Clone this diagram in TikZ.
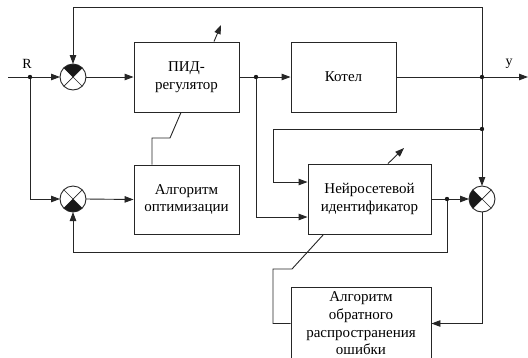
\documentclass[tikz,border=0pt]{standalone}
\usepackage{fontspec}
\setmainfont{Liberation Serif}
\usetikzlibrary{arrows.meta}
\newcommand{\sumdec}[2]{%
  \draw[line width=0.7pt] (#1.north west) -- (#1.south east) (#1.north east) -- (#1.south west);
  \begin{scope}
    \clip (#1.center) circle[radius=12.8pt];
    \fill[black!90] (#1.center) #2 -- cycle;
  \end{scope}}
\begin{document}
\begin{tikzpicture}[x=1pt,y=-1pt,line width=0.9pt,
  draw=black!85,
  blk/.style={draw, rectangle, align=center, inner sep=0pt,
    font=\fontsize{15}{17.6}\selectfont},
  sum/.style={draw, circle, minimum size=26pt, inner sep=0pt, outer sep=0pt},
  arr/.style={-{Triangle[length=9pt,width=6.5pt]}},
  lbl/.style={font=\fontsize{14}{17}\selectfont, inner sep=0pt}]
\clip (0,0) rectangle (528,357);
\useasboundingbox (0,0) rectangle (528,357);
% blocks
\node[blk, minimum width=105pt, minimum height=70pt] (pid) at (186.5,77) {ПИД-\\регулятор};
\node[blk, minimum width=105pt, minimum height=70pt] (kot) at (343.5,77) {Котел};
\node[blk, minimum width=105pt, minimum height=69pt] (opt) at (186.5,199.5) {Алгоритм\\оптимизации};
\node[blk, minimum width=123pt, minimum height=70pt] (nn) at (369.5,199) {Нейросетевой\\идентификатор};
\node[blk, minimum width=140pt, minimum height=73pt] (bp) at (361,323.5) {Алгоритм\\обратного\\распространения\\ошибки};
% summers
\node[sum] (s1) at (73,77) {};
\node[sum] (s2) at (73,199) {};
\node[sum] (s3) at (482,199) {};
\sumdec{s1}{-- +(-20,-20) -- +(20,-20)}
\sumdec{s2}{-- +(-20,20) -- +(20,20)}
\sumdec{s3}{-- +(-20,-20) -- +(-20,20)}
% labels
\node[lbl] (R) at (27,64) {R};
\node[lbl] (yl) at (509,64) {y};
% coordinates
\coordinate (in) at (8,77);
\coordinate (dR) at (30,77);
\coordinate (dP) at (256,77);
\coordinate (dY) at (482,77);
\coordinate (out) at (528,77);
\coordinate (dT) at (482,129);
\coordinate (dN) at (447,199);
\coordinate (ctop) at (482,7);
\coordinate (c1) at (273,129);
\coordinate (c2) at (447,252);
\coordinate (c3) at (273,269);
\coordinate (c4) at (292,269);
\coordinate (c5) at (170,138);
\coordinate (c6) at (152,138);
\coordinate (a1) at (221,25);
\coordinate (a2) at (404,148);
% connectors
\draw[arr] (in) -- (s1.west);
\draw[arr] (s1.east) -- (pid.west);
\draw[arr] (pid.east) -- (kot.west);
\draw[arr] (kot.east) -- (out);
\draw[arr] (dY) -- (ctop) -| (s1.north);
\draw[arr] (dR) |- (s2.west);
\draw[arr] (s2.east) -- (opt.west);
\draw[arr] (dT) -- (c1) |- ([yshift=17pt]nn.west);
\draw[arr] (dP) |- ([yshift=-18pt]nn.west);
\draw[arr] (dY) -- (s3.north);
\draw[arr] (nn.east) -- (s3.west);
\draw[arr] (dN) -- (c2) -| (s2.south);
\draw[arr] (s3.south) |- (bp.east);
\draw (bp.west) -| (c3) -- (c4) -- ([xshift=16pt]nn.south west);
\draw ([xshift=-5.5pt]pid.south) -- (c5) -- (c6) -- ([xshift=-34.5pt]opt.north);
\draw[arr] ([xshift=27.5pt]pid.north) -- (a1);
\draw[arr] ([xshift=18.5pt]nn.north) -- (a2);
% dots
\foreach \p in {dR,dP,dY,dT,dN} \fill[black!90] (\p) circle[radius=2.2pt];
\end{tikzpicture}
\end{document}
